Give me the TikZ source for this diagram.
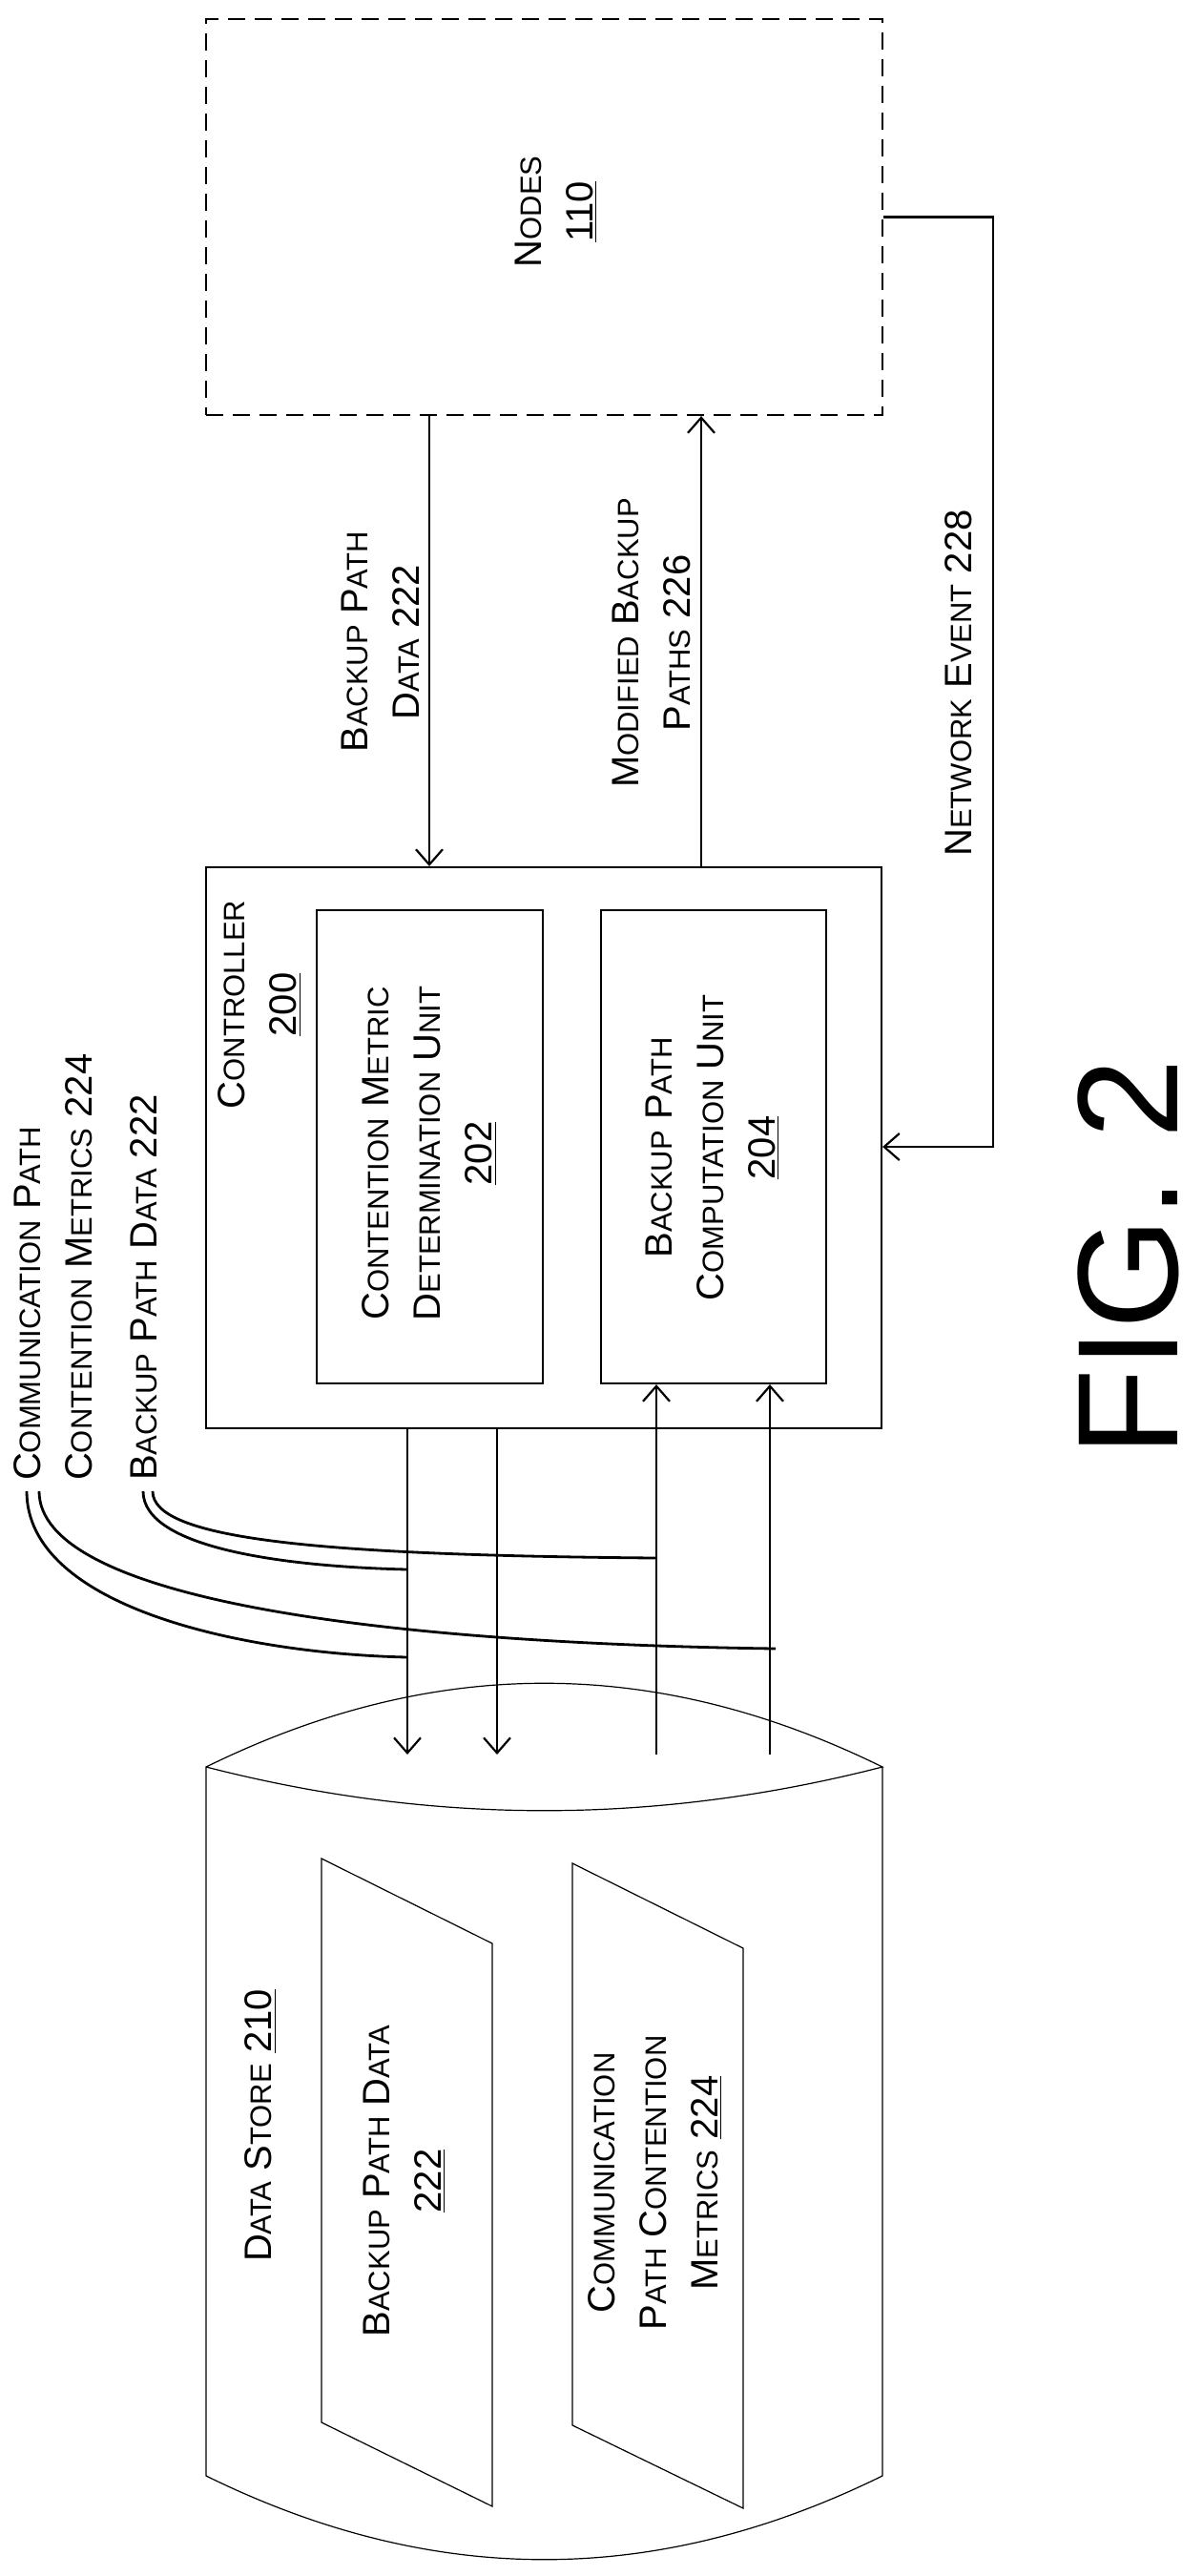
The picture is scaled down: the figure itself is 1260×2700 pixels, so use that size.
\documentclass[tikz,border=0pt]{standalone}
\usepackage{fontspec}
\setmainfont{Liberation Sans}
\usetikzlibrary{arrows.meta,positioning}
\newcommand\sm[1]{{\fontsize{15.5}{27}\selectfont #1}}
\begin{document}
\begin{tikzpicture}[x=0.5pt,y=-0.5pt,line width=1.1pt,
    box/.style={draw,inner sep=0pt},
    lbl/.style={rotate=90,align=center,inner sep=0pt,font=\fontsize{20}{27}\selectfont},
    arr/.style={-{Straight Barb[length=8pt,width=14pt,line width=1.1pt]}},
    lead/.style={line width=1.4pt}]
    \useasboundingbox (0,0) rectangle (1260,2700);
    % boxes
    \node[box,dashed,dash pattern=on 9pt off 5pt,minimum width=354.5pt,minimum height=207.5pt] (nodes) at (570.5,227.5) {};
    \node[lbl] at (583,222) {N\sm{ODES}\\\underline{110}};
    \node[box,minimum width=354pt,minimum height=294pt] (ctrl) at (570,1203) {};
    \node[lbl] at (272,1053) {C\sm{ONTROLLER}\\\underline{200}};
    \node[box,minimum width=118.5pt,minimum height=248pt] (u202) at (450.5,1202) {};
    \node[lbl] at (450,1209) {C\sm{ONTENTION} M\sm{ETRIC}\\D\sm{ETERMINATION} U\sm{NIT}\\\underline{202}};
    \node[box,minimum width=118pt,minimum height=248pt] (u204) at (748,1202) {};
    \node[lbl] at (747,1203) {B\sm{ACKUP} P\sm{ATH}\\C\sm{OMPUTATION} U\sm{NIT}\\\underline{204}};
    % data store
    \draw[line width=0.6pt] (216,1852) .. controls (454,1735) and (687,1735) .. (925,1852)
        .. controls (687,1913) and (454,1913) .. (216,1852) -- (216,2595)
        .. controls (454,2712) and (687,2712) .. (925,2595) -- (925,1852);
    \draw[line width=0.6pt] (337,1948) -- (516,2037) -- (516,2627) -- (337,2539) -- cycle;
    \draw[line width=0.6pt] (600,1953) -- (779,2042) -- (779,2629) -- (600,2542) -- cycle;
    \node[lbl] at (273,2228) {D\sm{ATA} S\sm{TORE} \underline{210}};
    \node[lbl] at (424,2286) {B\sm{ACKUP} P\sm{ATH} D\sm{ATA}\\\underline{222}};
    \node[lbl] at (687,2288) {C\sm{OMMUNICATION}\\P\sm{ATH} C\sm{ONTENTION}\\M\sm{ETRICS} \underline{224}};
    % connectors to nodes
    \coordinate (xa) at (450,0);
    \coordinate (xb) at (735,0);
    \coordinate (ne) at (1041,1202);
    \draw[arr] (nodes.south -| xa) -- (ctrl.north -| xa);
    \draw[arr] (ctrl.north -| xb) -- (nodes.south -| xb);
    \draw[arr] (nodes.east) -| (ne) -- (ctrl.east |- ne);
    \node[lbl] at (399,673) {B\sm{ACKUP} P\sm{ATH}\\D\sm{ATA} 222};
    \node[lbl] at (683,674) {M\sm{ODIFIED} B\sm{ACKUP}\\P\sm{ATHS} 226};
    \node[lbl] at (1005,716) {N\sm{ETWORK} E\sm{VENT} 228};
    % connectors to data store
    \coordinate (d1) at (427,1839);
    \coordinate (d2) at (521,1839);
    \coordinate (p1) at (688,1839);
    \coordinate (p2) at (807,1839);
    \draw[arr] (ctrl.south -| d1) -- (d1);
    \draw[arr] (ctrl.south -| d2) -- (d2);
    \draw[arr] (p1) -- (u204.south -| p1);
    \draw[arr] (p2) -- (u204.south -| p2);
    % leader labels
    \node[lbl,align=left,anchor=west] (cpl) at (56,1553) {C\sm{OMMUNICATION} P\sm{ATH}\\C\sm{ONTENTION} M\sm{ETRICS} 224};
    \node[lbl,align=left,anchor=west] (bpl) at (151,1553) {B\sm{ACKUP} P\sm{ATH} D\sm{ATA} 222};
    \draw[lead] ([xshift=-0.5pt,yshift=-5pt]bpl.west) .. controls +(0,-30pt) and (300,1642) .. (d1 |- 0,1645);
    \draw[lead] ([xshift=4.5pt,yshift=-5pt]bpl.west) .. controls +(0,-25pt) and (330,1630) .. (p1 |- 0,1633);
    \draw[lead] ([xshift=-14pt,yshift=-5pt]cpl.west) .. controls +(0,-60pt) and (250,1733) .. (d1 |- 0,1737);
    \draw[lead] ([xshift=-7.5pt,yshift=-5pt]cpl.west) .. controls +(0,-55pt) and (380,1722) .. (813,1728);
    \node[rotate=90,inner sep=0pt,font=\fontsize{75}{80}\selectfont] (fig) at (1183,1318) {FIG. 2};
\end{tikzpicture}
\end{document}
